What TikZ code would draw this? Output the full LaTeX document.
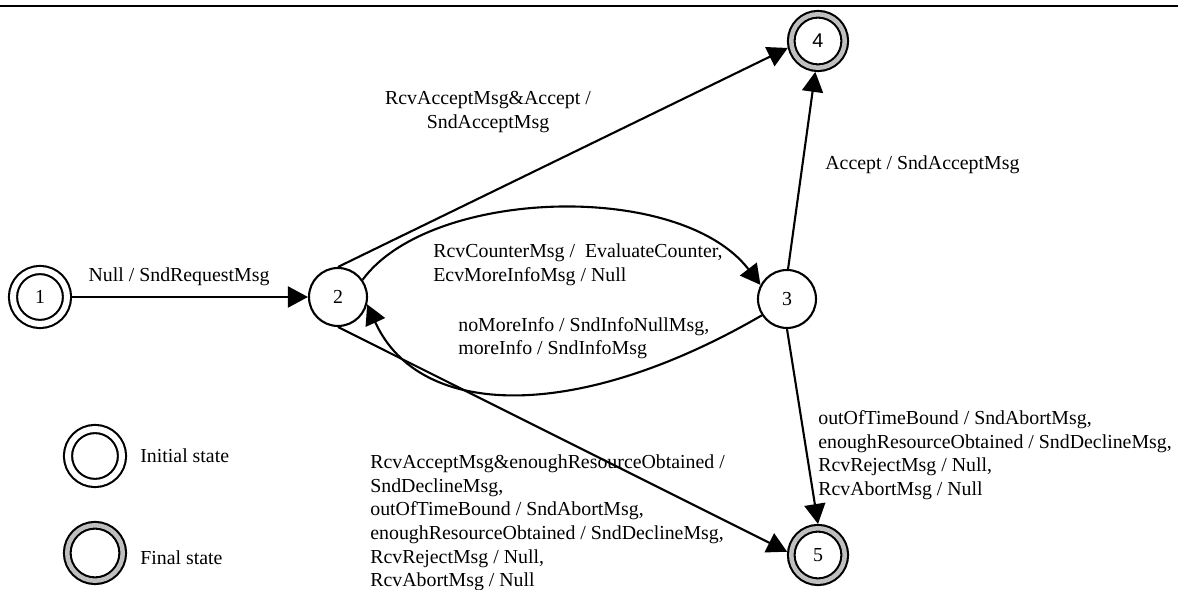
\documentclass[tikz,border=0pt]{standalone}
\usepackage{fontspec}
\setmainfont{Liberation Serif}
\setsansfont{Liberation Sans}
\usetikzlibrary{positioning}
\usetikzlibrary{arrows.meta}
\def\thickness{very thick}
\tikzset{
state/.style={draw,circle,inner sep=0pt,minimum size=1.16cm,\thickness},
initstate/.style={draw,circle,inner sep=0pt,double,double distance=0.12cm,minimum size=1.08cm,outer sep=0.1cm,\thickness},
finalstate/.style={draw,circle,inner sep=0pt,double=black!25,double distance=0.09cm,minimum size=1.07cm,outer sep=0.085cm,\thickness},
trans/.style={\thickness,-{Triangle[length=0.4cm,width=0.42cm]}},
txt/.style={inner sep=0pt,align=left,anchor=west},
}
\begin{document}
\begin{tikzpicture}[x=0.02cm,y=-0.02cm,font=\fontsize{11.3}{13.4}\selectfont]
\useasboundingbox (0,0) rectangle (1178,590);
\coordinate (ruleL) at (0,6);
\coordinate (ruleR) at (1178,6);
\draw[\thickness] (ruleL) -- (ruleR);

\node[initstate] (1) at (40,297) {1};
\node[state] (2) at (338,297) {2};
\node[state] (3) at (787,299) {3};
\node[finalstate] (4) at (818,41) {\sffamily 4};
\node[finalstate] (5) at (818,555) {5};

%
\draw[trans] (1) -- (2);
\draw[trans] (2.north) -- (4.193);
\draw[trans] (3.88) -- (4.265);
\draw[trans] (2.35) .. controls (430,188) and (680,180) .. (3.152);
\draw[trans] (3.213) .. controls (580,421) and (420,421) .. (2.346);
\draw[trans] (2.south) -- (5.174);
\draw[trans] (3.south) -- (5.north);

%
\node[inner sep=0pt] (l12) at (179,277) {Null / SndRequestMsg};
\node[inner sep=0pt,align=center] (l24) at (488,112) {RcvAcceptMsg\&Accept /\\SndAcceptMsg};
\node[txt] (l34) at (825,165) {Accept / SndAcceptMsg};
\node[txt] (l23) at (433,265) {RcvCounterMsg /\ \ EvaluateCounter,\\EcvMoreInfoMsg / Null};
\node[txt] (l32) at (458,338) {noMoreInfo / SndInfoNullMsg,\\moreInfo / SndInfoMsg};
\node[txt] (l35) at (818,455) {outOfTimeBound / SndAbortMsg,\\enoughResourceObtained / SndDeclineMsg,\\RcvRejectMsg / Null,\\RcvAbortMsg / Null};
\node[txt] (l25) at (370,523) {RcvAcceptMsg\&enoughResourceObtained /\\SndDeclineMsg,\\outOfTimeBound / SndAbortMsg,\\enoughResourceObtained / SndDeclineMsg,\\RcvRejectMsg / Null,\\RcvAbortMsg / Null};

%
\node[initstate] (initL) at (95,456) {};
\node[finalstate, minimum size=1.11cm] (finalL) at (95,553) {};
\node[txt, right=0.26cm of initL.east] {Initial state};
\node[txt, right=0.26cm of finalL.east, yshift=-0.1cm] {Final state};
\end{tikzpicture}
\end{document}
